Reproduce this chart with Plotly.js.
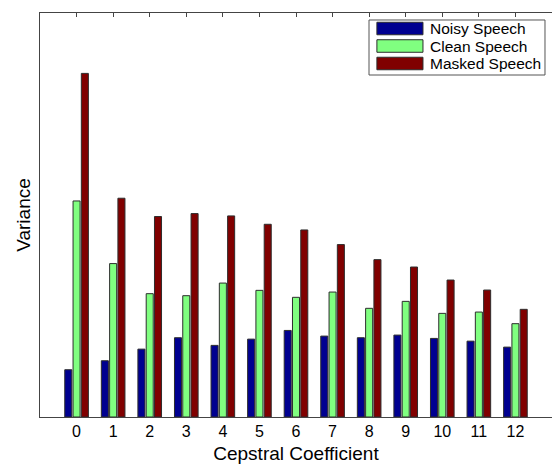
<!DOCTYPE html>
<html>
<head>
<meta charset="utf-8">
<script src="https://cdn.plot.ly/plotly-3.0.1.min.js"></script>
<style>
  html, body { margin: 0; padding: 0; background: #fff; }
  #chart { width: 552px; height: 464px; }
</style>
</head>
<body>
<div id="chart"></div>
<script>
// Per-coefficient variance of the cepstral coefficients c0..c12
const coefficients = [0, 1, 2, 3, 4, 5, 6, 7, 8, 9, 10, 11, 12];
const seriesNames = ['Noisy Speech', 'Clean Speech', 'Masked Speech'];
const noisyVar  = [0.468, 0.557, 0.672, 0.785, 0.709, 0.771, 0.857, 0.801, 0.785, 0.811, 0.778, 0.751, 0.692];
const cleanVar  = [2.139, 1.519, 1.221, 1.201, 1.326, 1.254, 1.185, 1.237, 1.076, 1.145, 1.026, 1.039, 0.924];
const maskedVar = [3.402, 2.166, 1.985, 2.014, 1.991, 1.908, 1.852, 1.707, 1.558, 1.485, 1.356, 1.257, 1.066];
const tickLabels = coefficients.map(String);

const colors = ['#000090', '#80ff80', '#800000'];
const edge = { color: 'rgb(45,45,45)', width: 1 };
const font = 'Liberation Sans, Arial, Helvetica, sans-serif';

const seriesValues = [noisyVar, cleanVar, maskedVar];
const traces = seriesValues.map((vals, i) => ({
  type: 'bar',
  name: seriesNames[i],
  x: coefficients,
  y: vals,
  marker: { color: colors[i], line: edge },
  showlegend: false,
  hoverinfo: 'x+y+name'
}));

// Boxed legend with wide swatches in the upper-right corner of the axes
const legend = { x0: 0.6426, x1: 0.9863, y0: 0.8465, y1: 0.9827,
                 swX0: 0.658, swX1: 0.748, textX: 0.7584,
                 rowStep: 0.0433, swH: 0.031, firstRow: 0.9616 };
const shapes = [{
  type: 'rect', xref: 'paper', yref: 'paper',
  x0: legend.x0, x1: legend.x1, y0: legend.y0, y1: legend.y1,
  fillcolor: '#ffffff', line: { color: '#555555', width: 1 }
}];
const annotations = [];
seriesNames.forEach((name, i) => {
  const yc = legend.firstRow - i * legend.rowStep;
  shapes.push({
    type: 'rect', xref: 'paper', yref: 'paper',
    x0: legend.swX0, x1: legend.swX1, y0: yc - legend.swH / 2, y1: yc + legend.swH / 2,
    fillcolor: colors[i], line: { color: 'rgb(45,45,45)', width: 1 }
  });
  annotations.push({
    xref: 'paper', yref: 'paper', x: legend.textX, y: yc,
    xanchor: 'left', yanchor: 'middle', showarrow: false,
    text: name, font: { family: font, size: 15.5, color: '#000' }
  });
});

const layout = {
  width: 552, height: 464,
  margin: { l: 40, r: 0, t: 13, b: 47, pad: 0 },
  paper_bgcolor: '#ffffff', plot_bgcolor: '#ffffff',
  barmode: 'group', bargap: 0.32, bargroupgap: 0.15,
  font: { family: font, color: '#000' },
  xaxis: {
    range: [-1, 13],
    tickmode: 'array', tickvals: coefficients, ticktext: tickLabels,
    ticks: 'inside', ticklen: 4, tickcolor: '#444', tickwidth: 1,
    showline: true, linecolor: '#444', linewidth: 1, mirror: 'ticks',
    showgrid: false, zeroline: false, layer: 'below traces',
    tickfont: { family: font, size: 16, color: '#000' },
    title: { text: 'Cepstral Coefficient', font: { family: font, size: 19, color: '#000' }, standoff: 8 }
  },
  yaxis: {
    range: [0, 4],
    showticklabels: false, ticks: '',
    showline: true, linecolor: '#444', linewidth: 1, mirror: false,
    showgrid: false, zeroline: false,
    title: { text: 'Variance', font: { family: font, size: 19, color: '#000' }, standoff: 3 }
  },
  shapes: shapes,
  annotations: annotations,
  showlegend: false
};

Plotly.newPlot('chart', traces, layout, { displayModeBar: false, staticPlot: true });
</script>
</body>
</html>
